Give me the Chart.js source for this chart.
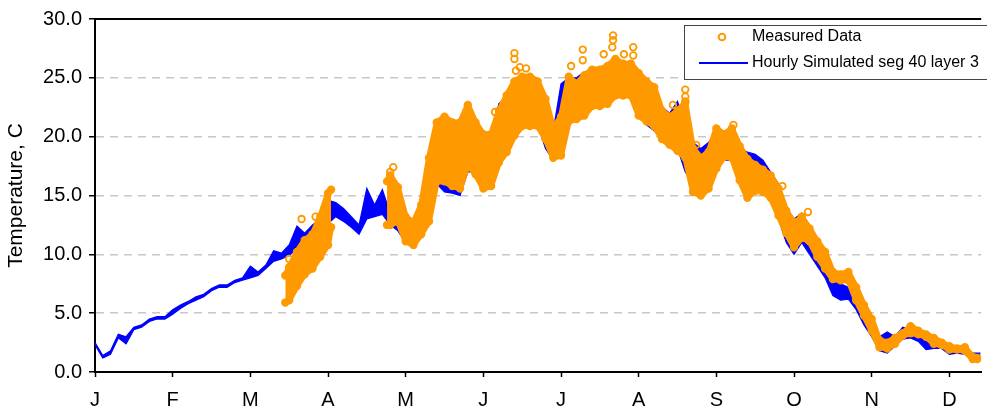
<!DOCTYPE html>
<html>
<head>
<meta charset="utf-8">
<script src="https://cdn.jsdelivr.net/npm/chart.js@4.4.1/dist/chart.umd.min.js"></script>
<style>
html, body { margin: 0; padding: 0; background: #fff; }
#wrap { width: 987px; height: 417px; }
</style>
</head>
<body>
<div id="wrap"><canvas id="tempChart" width="987" height="417"></canvas></div>
<script>
// x positions are in months from 1 Jan (0 = J tick, 1 = F tick ...)
const monthTicks = [0, 1, 2, 3, 4, 5, 6, 7, 8, 9, 10, 11];
const monthLabels = ['J', 'F', 'M', 'A', 'M', 'J', 'J', 'A', 'S', 'O', 'N', 'D'];
const yTicks = [0, 5, 10, 15, 20, 25, 30];

// hourly simulated, daily low / high envelope
const simX = [0, 0.1, 0.2, 0.3, 0.4, 0.5, 0.6, 0.7, 0.8, 0.9,
  1, 1.1, 1.2, 1.3, 1.4, 1.5, 1.6, 1.7, 1.8, 1.9,
  2, 2.1, 2.2, 2.3, 2.4, 2.5, 2.6, 2.7, 2.8, 2.9,
  3, 3.1, 3.2, 3.3, 3.4, 3.5, 3.6, 3.7, 3.8, 3.9,
  4, 4.1, 4.2, 4.3, 4.4, 4.5, 4.6, 4.7, 4.8, 4.9,
  5, 5.1, 5.2, 5.3, 5.4, 5.5, 5.6, 5.7, 5.8, 5.9,
  6, 6.1, 6.2, 6.3, 6.4, 6.5, 6.6, 6.7, 6.8, 6.9,
  7, 7.1, 7.2, 7.3, 7.4, 7.5, 7.6, 7.7, 7.8, 7.9,
  8, 8.1, 8.2, 8.3, 8.4, 8.5, 8.6, 8.7, 8.8, 8.9,
  9, 9.1, 9.2, 9.3, 9.4, 9.5, 9.6, 9.7, 9.8, 9.9,
  10, 10.1, 10.2, 10.3, 10.4, 10.5, 10.6, 10.7, 10.8, 10.9,
  11, 11.1, 11.2, 11.3, 11.4];
const simLow = [2.3, 1.2, 1.5, 2.9, 2.4, 3.6, 3.8, 4.3, 4.5, 4.5,
  4.9, 5.4, 5.8, 6.1, 6.4, 6.9, 7.2, 7.2, 7.6, 7.8,
  8.0, 8.2, 8.8, 9.4, 9.6, 9.9, 10.5, 10.5, 11.0, 11.5,
  12.6, 13.2, 12.8, 12.3, 11.7, 13.0, 13.2, 13.4, 12.5, 12.0,
  11.0, 10.8, 11.5, 13.0, 16.0, 15.3, 15.2, 15.0, 17.0, 17.0,
  17.3, 17.0, 19.0, 20.0, 21.0, 22.0, 22.0, 21.0, 19.0, 18.0,
  20.0, 22.0, 22.0, 22.0, 23.0, 23.0, 23.0, 23.5, 23.5, 23.5,
  22.5, 21.0, 20.5, 20.0, 19.5, 19.0, 17.0, 16.0, 15.5, 17.0,
  17.5, 18.0, 18.0, 16.5, 16.0, 16.0, 15.5, 14.5, 13.0, 11.0,
  10.0, 11.0, 10.0, 9.0, 8.0, 6.5, 6.1, 6.2, 5.3, 4.0,
  3.0, 1.8, 1.6, 2.2, 2.8, 2.9, 2.6, 1.9, 2.0, 2.0,
  1.5, 1.6, 1.5, 1.0, 1.0];
const simHigh = [2.5, 1.4, 1.8, 3.2, 3.0, 3.8, 4.0, 4.5, 4.7, 4.7,
  5.3, 5.7, 6.0, 6.4, 6.6, 7.1, 7.4, 7.4, 7.8, 8.0,
  9.0, 8.5, 9.1, 10.3, 10.1, 10.8, 12.4, 11.8, 12.5, 13.0,
  14.6, 14.4, 13.9, 13.2, 12.5, 15.6, 14.2, 15.5, 13.5, 15.0,
  13.0, 12.0, 14.0, 17.0, 19.5, 18.0, 16.8, 16.5, 21.0, 21.0,
  19.0, 20.0, 22.8, 23.3, 24.5, 25.0, 25.0, 24.0, 22.5, 20.5,
  24.5, 25.0, 25.0, 25.5, 25.5, 25.5, 26.0, 26.0, 26.0, 26.0,
  25.2, 24.6, 24.0, 22.5, 22.0, 23.0, 21.0, 19.5, 19.0, 19.5,
  20.5, 20.0, 20.5, 19.0, 18.7, 18.5, 18.0, 17.0, 16.0, 14.0,
  13.0, 13.5, 12.5, 11.0, 10.0, 8.5, 7.5, 7.2, 7.0, 5.5,
  4.3, 3.0, 3.4, 3.0, 3.8, 3.6, 3.4, 2.9, 2.8, 2.5,
  2.2, 2.2, 2.0, 1.6, 1.6];

// measured data, daily low / high envelope (null = no record)
const measX = [2.45, 2.5, 2.6, 2.7, 2.8, 2.9, 3.0, 3.04, 3.4,
  3.76, 3.8, 3.9, 4, 4.1, 4.2, 4.3, 4.4, 4.5, 4.6, 4.7, 4.8, 4.9,
  5, 5.1, 5.2, 5.3, 5.4, 5.5, 5.6, 5.7, 5.8, 5.9,
  6, 6.1, 6.2, 6.3, 6.4, 6.5, 6.6, 6.7, 6.8, 6.9,
  7, 7.1, 7.2, 7.3, 7.4, 7.5, 7.6, 7.7, 7.8, 7.9,
  8, 8.1, 8.2, 8.3, 8.4, 8.5, 8.6, 8.7, 8.8, 8.9,
  9, 9.1, 9.2, 9.3, 9.4, 9.5, 9.6, 9.7, 9.8, 9.9,
  10, 10.1, 10.2, 10.3, 10.4, 10.5, 10.6, 10.7, 10.8, 10.9,
  11, 11.1, 11.2, 11.3, 11.36];
const measLow = [5.9, 6.1, 7.3, 8.3, 8.8, 9.8, 10.8, 12.3, null,
  12.5, 12.5, 12.8, 11.1, 10.8, 11.7, 12.8, 16.2, 16.2, 15.8, 15.6, 17.6, 16.8,
  15.6, 15.8, 17.8, 18.7, 20.1, 20.9, 20.9, 20.9, 19.8, 18.2,
  18.4, 21.3, 21.5, 21.8, 22.6, 22.6, 22.8, 23.5, 23.5, 23.5,
  21.8, 21.3, 20.9, 19.8, 19.3, 18.8, 18.2, 15.3, 15.0, 15.6,
  17.3, 18.3, 18.2, 16.3, 14.8, 15.4, 15.3, 14.8, 13.3, 11.8,
  10.6, 11.4, 11.1, 9.8, 8.8, 7.9, 7.8, 7.8, 6.1, 4.8,
  3.5, 2.1, 2.0, 2.4, 3.1, 3.3, 3.2, 3.0, 2.4, 2.3,
  1.9, 1.9, 1.8, 1.1, 1.1];
const measHigh = [8.2, 8.9, 10.2, 11.2, 11.7, 13.2, 15.2, 15.5, null,
  16.2, 16.7, 15.7, 13.2, 12.7, 14.2, 18.2, 21.2, 21.7, 21.2, 21.2, 22.7, 21.2,
  20.2, 20.2, 22.2, 23.5, 24.7, 25.1, 25.1, 24.7, 23.2, 20.7,
  21.7, 25.1, 24.5, 25.2, 25.7, 25.7, 26.0, 26.6, 26.2, 26.2,
  25.4, 24.7, 24.2, 22.2, 21.7, 22.2, 22.9, 19.0, 18.2, 18.7,
  20.7, 20.2, 20.7, 19.2, 18.1, 17.6, 17.2, 16.7, 15.6, 13.7,
  12.7, 13.1, 12.2, 11.1, 10.2, 8.5, 8.3, 8.5, 7.2, 5.7,
  4.5, 2.7, 2.5, 2.9, 3.3, 3.9, 3.5, 3.2, 2.9, 2.5,
  2.2, 2.0, 2.1, 1.3, 1.2];

// isolated measured readings outside the envelope
const outX = [2.50, 2.66, 2.84, 3.80, 3.84, 5.15, 5.15, 5.40, 5.40, 5.42, 5.47, 5.55,
  6.13, 6.28, 6.28, 6.55, 6.66, 6.67, 6.67, 6.81, 6.93, 6.93,
  7.18, 7.44, 7.60, 7.60, 7.60, 7.74, 8.22, 8.85, 9.10, 9.18];
const outY = [9.6, 13.0, 13.2, 17.0, 17.4, 22.1, 20.6, 27.1, 26.6, 25.6, 25.9, 25.8,
  26.0, 27.4, 26.5, 27.0, 27.6, 28.2, 28.6, 27.0, 27.6, 26.9,
  23.8, 22.7, 24.0, 23.4, 23.0, 19.3, 21.0, 15.8, 13.2, 13.6];

const BLUE = '#0000ff';
const ORANGE = '#ff9900';
const FONT = "'Liberation Sans', Arial, sans-serif";

const toPts = (xs, ys) => xs.map((x, i) => ({ x: x, y: ys[i] }));

const frameAndLegend = {
  id: 'frameAndLegend',
  afterDraw(chart) {
    const ctx = chart.ctx;
    const a = chart.chartArea;
    ctx.save();
    // top frame line
    ctx.strokeStyle = '#000';
    ctx.lineWidth = 2;
    ctx.beginPath();
    ctx.moveTo(a.left, a.top);
    ctx.lineTo(a.right, a.top);
    ctx.stroke();

    // legend box
    ctx.fillStyle = '#fff';
    ctx.fillRect(684, 25, 320, 54);
    ctx.strokeStyle = '#444';
    ctx.lineWidth = 1;
    ctx.strokeRect(684.5, 25.5, 320, 54);

    ctx.strokeStyle = ORANGE;
    ctx.lineWidth = 2;
    ctx.beginPath();
    ctx.arc(722, 37, 3.3, 0, Math.PI * 2);
    ctx.stroke();

    ctx.strokeStyle = BLUE;
    ctx.lineWidth = 2;
    ctx.beginPath();
    ctx.moveTo(699, 63);
    ctx.lineTo(748, 63);
    ctx.stroke();

    ctx.fillStyle = '#000';
    ctx.font = '16px ' + FONT;
    ctx.textBaseline = 'middle';
    ctx.textAlign = 'left';
    ctx.fillText('Measured Data', 752, 37);
    ctx.fillText('Hourly Simulated seg 40 layer 3', 752, 63);
    ctx.restore();
  }
};

const measStyle = {
  borderColor: ORANGE,
  borderWidth: 6,
  borderJoinStyle: 'round',
  borderCapStyle: 'round',
  pointRadius: 3.3,
  pointBorderWidth: 1.8,
  pointBorderColor: ORANGE,
  pointBackgroundColor: 'rgba(255,255,255,0)'
};

const ctx = document.getElementById('tempChart').getContext('2d');
const tempChart = new Chart(ctx, {
  type: 'line',
  data: {
    datasets: [{
      label: 'simLow',
      data: toPts(simX, simLow),
      borderColor: BLUE,
      borderWidth: 1.2,
      pointRadius: 0,
      fill: false,
      order: 4
    }, {
      label: 'Hourly Simulated seg 40 layer 3',
      data: toPts(simX, simHigh),
      borderColor: BLUE,
      backgroundColor: BLUE,
      borderWidth: 1.2,
      pointRadius: 0,
      fill: '-1',
      order: 3
    }, Object.assign({
      label: 'measLow',
      data: toPts(measX, measLow),
      fill: false,
      order: 2
    }, measStyle), Object.assign({
      label: 'Measured Data',
      data: toPts(measX, measHigh),
      backgroundColor: ORANGE,
      fill: '-1',
      order: 1
    }, measStyle), {
      label: 'outliers',
      data: toPts(outX, outY),
      showLine: false,
      pointRadius: 3.3,
      pointBorderWidth: 1.8,
      pointBorderColor: ORANGE,
      pointBackgroundColor: 'rgba(255,255,255,0)',
      order: 0
    }]
  },
  options: {
    responsive: false,
    animation: false,
    spanGaps: false,
    elements: { line: { tension: 0 } },
    layout: { padding: { top: 16, right: 0, bottom: 0, left: 0 } },
    plugins: {
      legend: { display: false },
      tooltip: { enabled: false }
    },
    scales: {
      x: {
        type: 'linear',
        min: 0,
        max: 11.41,
        afterBuildTicks: s => { s.ticks = monthTicks.map(v => ({ value: v })); },
        afterFit: s => { s.height = 45; },
        ticks: {
          callback: (v, i) => monthLabels[i],
          color: '#000',
          font: { size: 20, family: FONT },
          padding: 11,
          maxRotation: 0,
          autoSkip: false
        },
        grid: { drawOnChartArea: false, drawTicks: true, tickLength: 5, tickColor: '#000', tickWidth: 1.5 },
        border: { display: true, color: '#000', width: 2 }
      },
      y: {
        min: 0,
        max: 30,
        afterBuildTicks: s => { s.ticks = yTicks.map(v => ({ value: v })); },
        afterFit: s => { s.width = 95; },
        ticks: {
          callback: v => v.toFixed(1),
          color: '#000',
          font: { size: 20, family: FONT },
          padding: 7
        },
        grid: {
          color: c => (c.tick && (c.tick.value === 0 || c.tick.value === 30)) ? 'rgba(0,0,0,0)' : '#c8c8c8',
          lineWidth: 1.5,
          tickLength: 6,
          tickColor: '#000',
          tickWidth: 1.5
        },
        border: { display: true, color: '#000', width: 2, dash: [8, 6] },
        title: {
          display: true,
          text: 'Temperature, C',
          color: '#000',
          font: { size: 21, family: FONT },
          padding: { top: 4, bottom: 0 }
        }
      }
    }
  },
  plugins: [frameAndLegend]
});
</script>
</body>
</html>
